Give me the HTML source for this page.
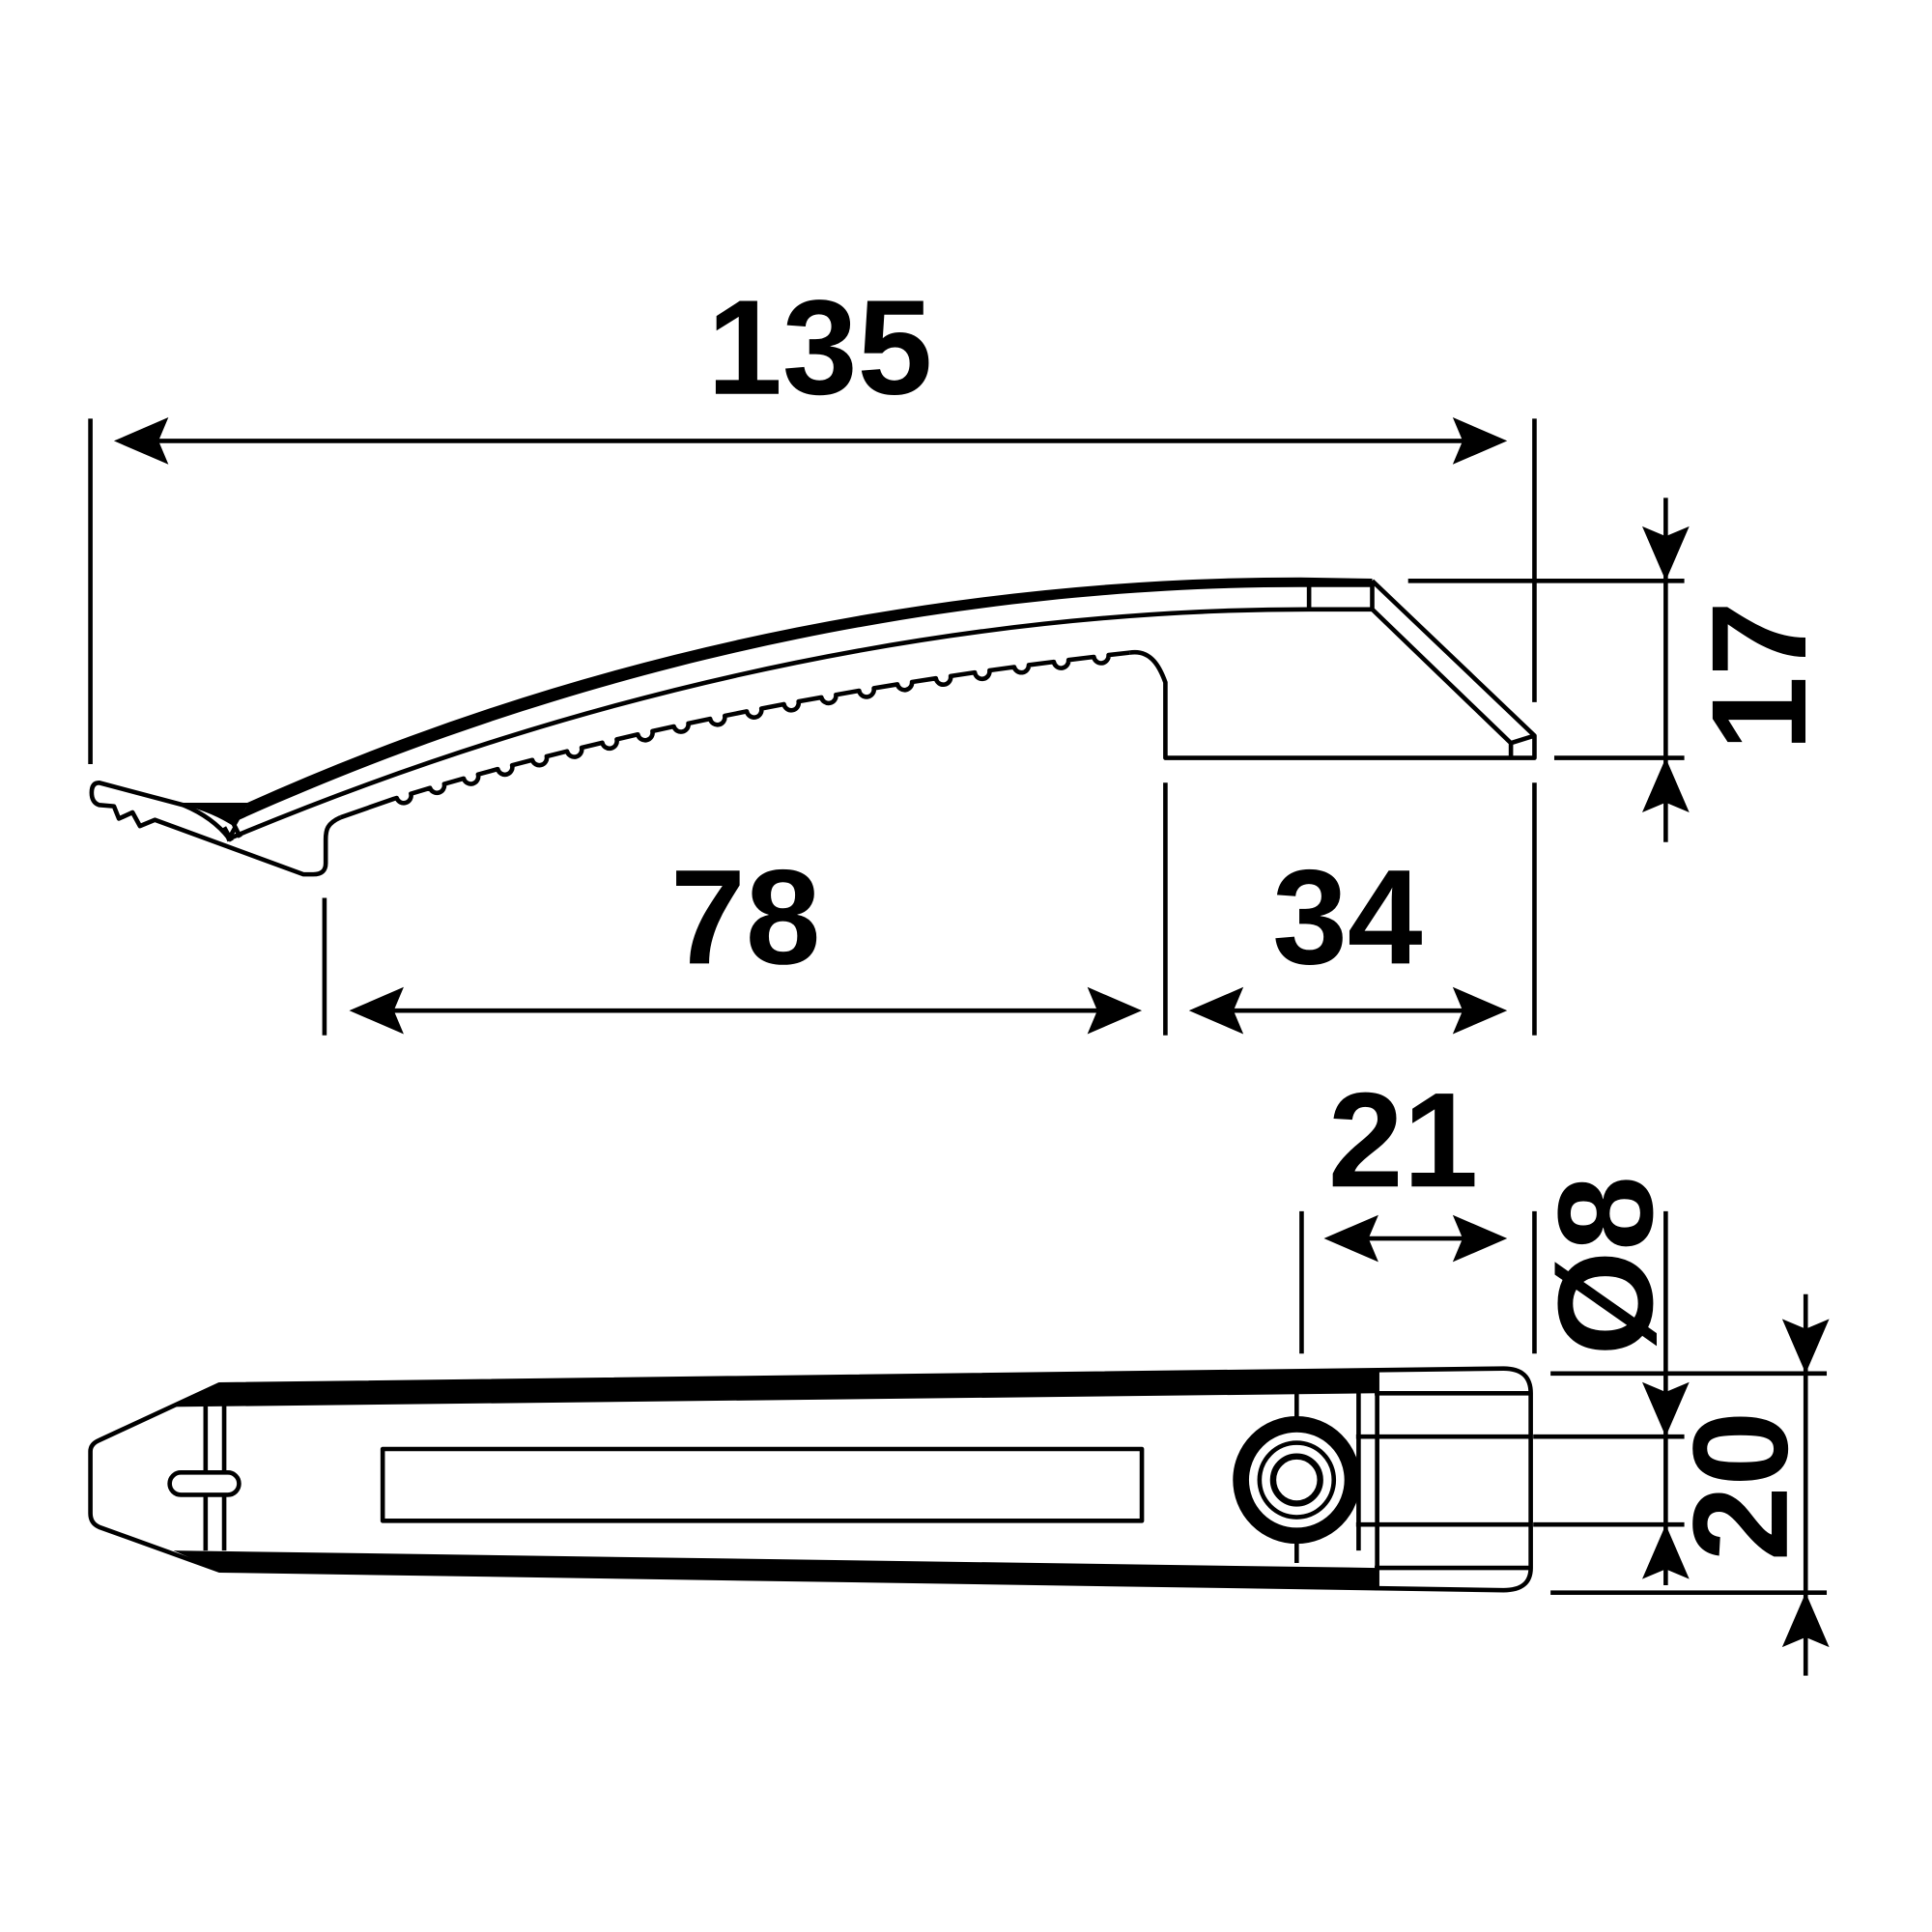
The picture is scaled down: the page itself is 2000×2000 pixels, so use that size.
<!DOCTYPE html>
<html><head><meta charset="utf-8"><style>html,body{margin:0;padding:0;background:#fff}svg{display:block}</style></head>
<body>
<svg id="s" width="2000" height="2000" viewBox="0 0 1560 1560" xmlns="http://www.w3.org/2000/svg">
<g fill="none" stroke="#000" stroke-width="3.6" stroke-linejoin="round">
<line x1="73" y1="338" x2="73" y2="617"/>
<line x1="1239" y1="338" x2="1239" y2="567"/>
<line x1="120" y1="356" x2="1190" y2="356"/>
<line x1="262" y1="725" x2="262" y2="836"/>
<line x1="941" y1="632" x2="941" y2="836"/>
<line x1="1239" y1="632" x2="1239" y2="836"/>
<line x1="310" y1="816" x2="895" y2="816"/>
<line x1="988" y1="816" x2="1190" y2="816"/>
<line x1="1137" y1="469" x2="1360" y2="469"/>
<line x1="1255" y1="612" x2="1360" y2="612"/>
<line x1="1345" y1="402" x2="1345" y2="680"/>
<line x1="1051" y1="978" x2="1051" y2="1093"/>
<line x1="1239" y1="978" x2="1239" y2="1093"/>
<line x1="1095" y1="1000" x2="1190" y2="1000"/>
<line x1="1345" y1="978" x2="1345" y2="1280"/>
<line x1="1238" y1="1160" x2="1360" y2="1160"/>
<line x1="1238" y1="1231" x2="1360" y2="1231"/>
<line x1="1252" y1="1109" x2="1475" y2="1109"/>
<line x1="1252" y1="1286" x2="1475" y2="1286"/>
<line x1="1458" y1="1045" x2="1458" y2="1353"/>

<path d="M200,650 C500,515 800,468 1050,468 L1108,469"/>
<path d="M183,678 C500,545 800,492 1057,492 L1108,492"/>
<path d="M1057,469 L1057,492 M1108,469 L1108,492 L1220,600 L1220,612 M1220,600 L1239,594 M1108,469 L1239,594 L1239,612 L941,612 L941,551 C937,540 930,524 912,527"/>
<path id="teeth" d=""/>
<path d="M275,660 C264,665 263,670 263,678 L263,697 Q263,706 253,706 L245,706 L125,662 L113,667 L107,656 L96,661 L92,651 L80,650 Q74,648 74,640 Q74,632 80,632 L148,650 L200,650"/>
<path d="M148,650 Q172,660 185,677 L190,668 M181,668 L187,679 M188,664 L194,676"/>

<path d="M80,1163 L177,1118 L1214,1105 Q1236,1105 1236,1125 L1236,1266 Q1236,1284 1214,1284 L177,1268 L80,1233 Q73,1230 73,1222 L73,1172 Q73,1166 80,1163 Z"/>
<line x1="166" y1="1132" x2="166" y2="1252"/>
<line x1="181" y1="1132" x2="181" y2="1252"/>
<rect x="137" y="1189" width="56" height="18" rx="9" fill="#fff"/>
<rect x="309" y="1170" width="613" height="58"/>
<line x1="1110" y1="1125" x2="1236" y2="1125"/>
<line x1="1095" y1="1160" x2="1236" y2="1160"/>
<line x1="1095" y1="1231" x2="1236" y2="1231"/>
<line x1="1110" y1="1266" x2="1236" y2="1266"/>
<line x1="1097" y1="1125" x2="1097" y2="1252"/>
<line x1="1112" y1="1108" x2="1112" y2="1284"/>
<line x1="1047" y1="1125" x2="1047" y2="1262"/>
<circle cx="1047" cy="1195" r="45" stroke-width="13" fill="#fff"/>
<circle cx="1047" cy="1195" r="30"/>
<circle cx="1047" cy="1195" r="19" stroke-width="5"/>
</g>
<g fill="#000">
<path d="M200,650 C500,515 800,468 1050,468 L1108,469 L1108,474 L1050,474 C800,474 500,524 193,662 Z"/>
<path d="M148,650 L200,650 L190,668 Q172,656 148,650 Z"/>
<path d="M177,1118 L1112,1105 L1112,1125 L140,1136 Z"/>
<path d="M140,1252 L1112,1266 L1112,1284 L177,1268 Z"/>
</g>
<g id="arrows" fill="#000"></g>
<g font-family="'Liberation Sans', sans-serif" font-weight="bold" font-size="109" text-anchor="middle" fill="#000">
<text x="662" y="318">135</text>
<text x="602" y="778">78</text>
<text x="1088" y="778">34</text>
<text x="1133" y="958">21</text>
<text transform="translate(1420,546) rotate(-90)" dominant-baseline="central">17</text>
<text transform="translate(1296,1022) rotate(-90)" dominant-baseline="central">Ø8</text>
<text transform="translate(1405,1200) rotate(-90)" dominant-baseline="central">20</text>
</g>
</svg>
<script>
var ns="http://www.w3.org/2000/svg";
function arrow(x,y,dx,dy){var px=-dy,py=dx;var L=44,W=19,N=36;
var p=[[x,y],[x+dx*L+px*W,y+dy*L+py*W],[x+dx*N,y+dy*N],[x+dx*L-px*W,y+dy*L-py*W]];
var e=document.createElementNS(ns,"polygon");e.setAttribute("points",p.map(function(a){return a.join(",")}).join(" "));
document.getElementById("arrows").appendChild(e);}
arrow(92,356,1,0);arrow(1217,356,-1,0);
arrow(282,816,1,0);arrow(922,816,-1,0);
arrow(960,816,1,0);arrow(1217,816,-1,0);
arrow(1345,469,0,-1);arrow(1345,612,0,1);
arrow(1069,1000,1,0);arrow(1217,1000,-1,0);
arrow(1345,1160,0,-1);arrow(1345,1231,0,1);
arrow(1458,1109,0,-1);arrow(1458,1286,0,1);
function q(t){var a=[318,645],c=[585,564],b=[912,527];var u=1-t;return [u*u*a[0]+2*u*t*c[0]+t*t*b[0],u*u*a[1]+2*u*t*c[1]+t*t*b[1]];}
var d="M275,660 L318,645";var n=20;
for(var i=0;i<n;i++){var t=(i+0.3)/n;var P=q(t),Q=q(t+0.001);var dx=Q[0]-P[0],dy=Q[1]-P[1],l=Math.hypot(dx,dy);dx/=l;dy/=l;
d+=" L"+(P[0]-6*dx).toFixed(1)+","+(P[1]-6*dy).toFixed(1)+" A6,6 0 0 0 "+(P[0]+6*dx).toFixed(1)+","+(P[1]+6*dy).toFixed(1);}
d+=" L912,527";
document.getElementById("teeth").setAttribute("d",d);
</script>
</body></html>
